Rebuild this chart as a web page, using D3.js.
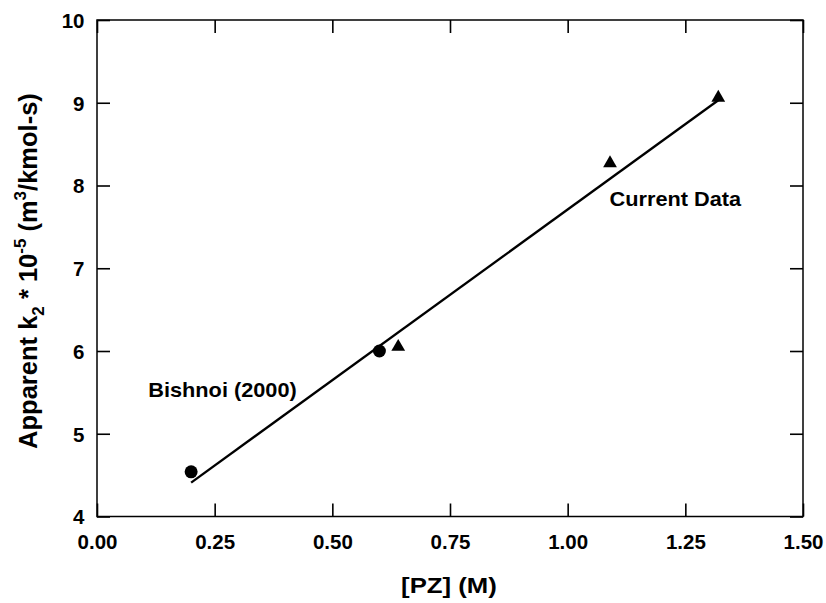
<!DOCTYPE html>
<html>
<head>
<meta charset="utf-8">
<script src="https://cdn.jsdelivr.net/npm/d3@7"></script>
<style>
  html, body { margin: 0; padding: 0; background: #fff; }
  text { font-family: "Liberation Sans", Arial, sans-serif; font-weight: bold; fill: #000; }
</style>
</head>
<body>
<svg id="chart" width="826" height="603"></svg>
<script>
// Data
const bishnoiX = [0.2, 0.6];
const bishnoiY = [4.54, 6.00];
const currentX = [0.64, 1.09, 1.32];
const currentY = [6.05, 8.27, 9.06];
const fitX = [0.2, 1.32];
const fitY = [4.41, 9.03];
const xTicks = [0, 0.25, 0.5, 0.75, 1.0, 1.25, 1.5];
const yTicks = [4, 5, 6, 7, 8, 9, 10];
const annotations = [
  { text: "Bishnoi (2000)", x: 0.109, y: 5.45 },
  { text: "Current Data", x: 1.089, y: 7.75 }
];

const svg = d3.select("#chart");
const mLeft = 97, mRight = 803, mTop = 20, mBottom = 516.5;
const x = d3.scaleLinear().domain([0, 1.5]).range([mLeft, mRight]);
const y = d3.scaleLinear().domain([4, 10]).range([mBottom, mTop]);
const tickLen = 13;
const tickFs = 20.5;
const annFs = 20.5, annSx = 1.06;

// Frame
svg.append("rect")
  .attr("x", mLeft).attr("y", mTop)
  .attr("width", mRight - mLeft).attr("height", mBottom - mTop)
  .attr("fill", "none").attr("stroke", "#000").attr("stroke-width", 1.5);

function styleAxis(g) {
  g.select(".domain").remove();
  g.selectAll(".tick line").attr("stroke", "#000").attr("stroke-width", 1.6);
  g.selectAll(".tick text").style("font-size", tickFs + "px");
}

// Bottom axis
svg.append("g").attr("transform", `translate(0,${mBottom})`)
  .call(d3.axisBottom(x).tickValues(xTicks).tickFormat(d3.format(".2f"))
    .tickSizeInner(-tickLen).tickSizeOuter(0))
  .call(styleAxis)
  .call(g => g.selectAll(".tick text").attr("dy", 0).attr("y", 32.5));
// Top axis (ticks only)
svg.append("g").attr("transform", `translate(0,${mTop})`)
  .call(d3.axisTop(x).tickValues(xTicks).tickFormat("").tickSizeInner(-tickLen).tickSizeOuter(0))
  .call(styleAxis);
// Left axis
svg.append("g").attr("transform", `translate(${mLeft},0)`)
  .call(d3.axisLeft(y).tickValues(yTicks).tickFormat(d3.format("d"))
    .tickSizeInner(-tickLen).tickSizeOuter(0))
  .call(styleAxis)
  .call(g => g.selectAll(".tick text").attr("x", -12.5).attr("dy", "0.36em"));
// Right axis (ticks only)
svg.append("g").attr("transform", `translate(${mRight},0)`)
  .call(d3.axisRight(y).tickValues(yTicks).tickFormat("").tickSizeInner(-tickLen).tickSizeOuter(0))
  .call(styleAxis);

// Fit line
svg.append("path")
  .datum(fitX.map((d, i) => [d, fitY[i]]))
  .attr("d", d3.line().x(d => x(d[0])).y(d => y(d[1])))
  .attr("fill", "none").attr("stroke", "#000").attr("stroke-width", 2.3);

// Circles
svg.selectAll("circle.b")
  .data(bishnoiX.map((d, i) => [d, bishnoiY[i]]))
  .join("circle").attr("class", "b")
  .attr("cx", d => x(d[0])).attr("cy", d => y(d[1])).attr("r", 6.5)
  .attr("fill", "#000");

// Triangles
const tri = d3.symbol().type(d3.symbolTriangle).size(82);
svg.selectAll("path.c")
  .data(currentX.map((d, i) => [d, currentY[i]]))
  .join("path").attr("class", "c")
  .attr("d", tri)
  .attr("transform", d => `translate(${x(d[0])},${y(d[1])})`)
  .attr("fill", "#000");

// Annotations
svg.selectAll("text.ann").data(annotations).join("text").attr("class", "ann")
  .attr("transform", d => `translate(${x(d.x)},${y(d.y)}) scale(${annSx},1)`)
  .style("font-size", annFs + "px")
  .text(d => d.text);

// X title
svg.append("text")
  .attr("transform", `translate(${(mLeft + mRight) / 2 - 1},593) scale(1.12,1)`)
  .attr("text-anchor", "middle").style("font-size", "23px").text("[PZ] (M)");

// Y title
const yt = svg.append("text")
  .attr("transform", `translate(37,271) rotate(-90)`)
  .attr("text-anchor", "middle").style("font-size", "25.5px");
yt.append("tspan").text("Apparent k");
yt.append("tspan").attr("dy", 7).style("font-size", "17px").text("2");
yt.append("tspan").attr("dy", -7).text(" * 10");
yt.append("tspan").attr("dy", -11).style("font-size", "17px").text("-5");
yt.append("tspan").attr("dy", 11).text(" (m");
yt.append("tspan").attr("dy", -11).style("font-size", "17px").text("3");
yt.append("tspan").attr("dy", 11).text("/kmol-s)");
</script>
</body>
</html>
